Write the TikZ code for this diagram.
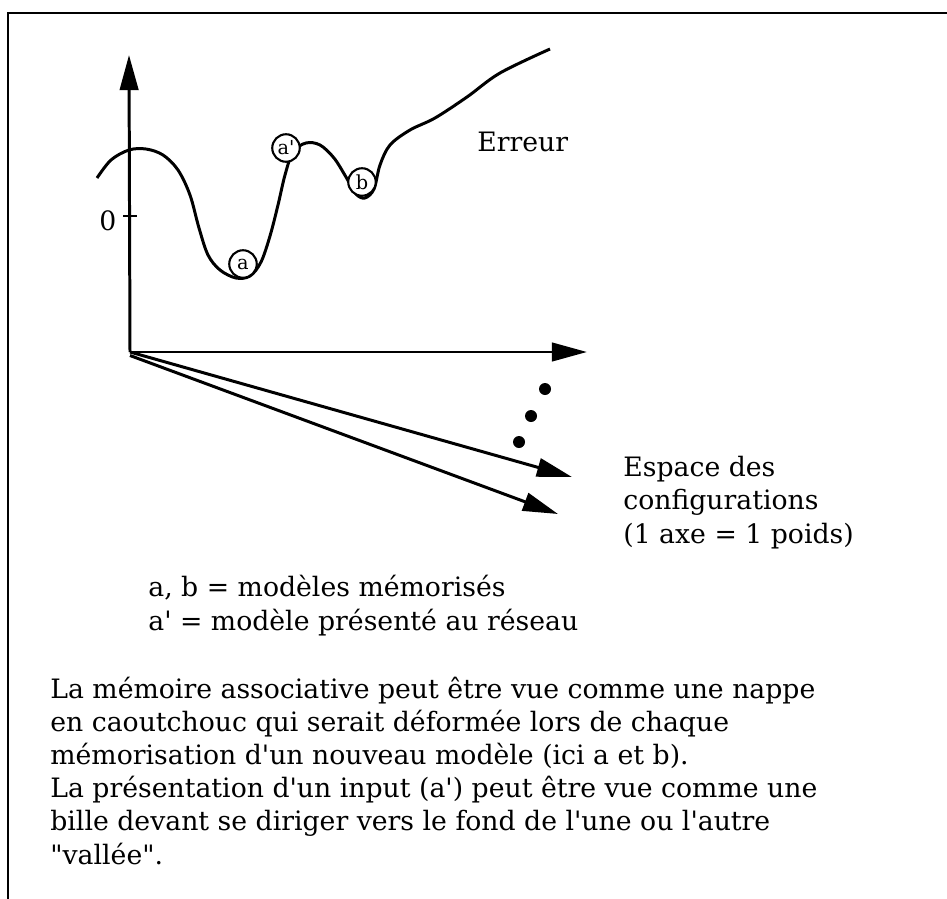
\documentclass[tikz,border=0pt]{standalone}
\usepackage{fontspec}
\setmainfont{DejaVu Serif}
\usetikzlibrary{arrows.meta,positioning}
\newcommand{\qs}{\textquotesingle}

\begin{document}
\begin{tikzpicture}[x=0.02cm,y=-0.02cm,>={Triangle[length=20pt,width=10.5pt]},
 txt/.style={font=\fontsize{15.2}{18.8}\selectfont,align=left,inner sep=0,anchor=base west},
 ball/.style={circle,draw,fill=white,line width=1.2pt,minimum size=0.55cm,inner sep=0,font=\fontsize{11}{11}\selectfont},
 axis/.style={->,line width=1.7pt}]
\useasboundingbox (0,0) rectangle (947,899);
\draw[line width=1.7pt] (8,899) -- (8,13) -- (947,13);
\coordinate (O) at (130,352);
\coordinate (yend) at (129,55);
\coordinate (xend) at (587,352);
\coordinate (w1) at (572,477);
\coordinate (w2) at (558,514);
\draw[axis] (O) -- (yend);
\draw[axis] (O) -- (xend);
\draw[axis] (O) -- (w1);
\draw[axis] ([yshift=-2pt]O) -- (w2);
\draw[line width=1.3pt] (123,216) -- (137,216);
\node[txt] (zero) at (99,230) {0};
\draw[line width=1.7pt] plot[smooth,tension=0.55] coordinates {(97,178) (111,160) (129,150) (146,149) (163,155) (178,170)
 (190,195) (199,228) (208,255) (220,270) (236,278) (250,276) (261,262) (270,236) (278,205) (285,175) (293,152)
 (306,143) (320,145) (334,158) (346,177) (356,194) (365,198) (374,189) (380,165) (390,145) (410,130)
 (435,118) (467,97) (500,73) (550,49)};
\node[ball] (ballA) at (243,264) {a};
\node[ball] (ballAp) at (286,148) {a\qs};
\node[ball] (ballB) at (362,182) {b};
\foreach \x/\y/\n in {545/389/1,531/416/2,519/442/3}
 \fill (\x,\y) circle (6) coordinate (dot\n);
\node[txt] (err) at (477,151) {Erreur};
\node[txt] (espace) at (623,543) {Espace des\\configurations\\(1 axe = 1 poids)};
\node[txt] (legend) at (148,630) {a, b = modèles mémorisés\\a\qs{} = modèle présenté au réseau};
\node[txt] (para) at (50,864) {La mémoire associative peut être vue comme une nappe\\
 en caoutchouc qui serait déformée lors de chaque\\
 mémorisation d\qs un nouveau modèle (ici a et b).\\
 La présentation d\qs un input (a\qs) peut être vue comme une\\
 bille devant se diriger vers le fond de l\qs une ou l\qs autre\\
 \textquotedbl vallée\textquotedbl.};
\end{tikzpicture}
\end{document}
